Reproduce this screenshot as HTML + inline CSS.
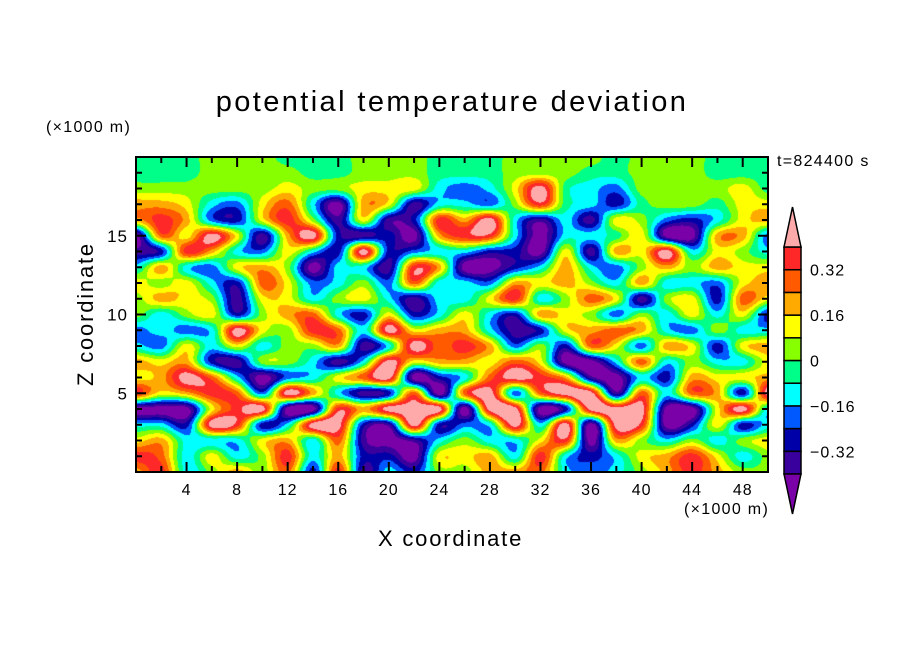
<!DOCTYPE html>
<html><head><meta charset="utf-8"><style>
body{margin:0;background:#fff;width:904px;height:654px;position:relative;overflow:hidden;font-family:"Liberation Sans",sans-serif}
.t{position:absolute;color:#000;white-space:nowrap}
</style></head><body>
<div class="t" style="left:0;width:904px;text-align:center;top:86px;font-size:29px;letter-spacing:2.4px">potential temperature deviation</div>
<div class="t" style="left:46px;top:119px;font-size:16px;letter-spacing:1.3px">(×1000 m)</div>
<div class="t" style="left:684px;top:501px;font-size:16px;letter-spacing:1.3px">(×1000 m)</div>
<div class="t" style="left:777px;top:153px;font-size:16px;letter-spacing:1.3px">t=824400 s</div>
<div class="t" style="left:378px;top:526px;font-size:22px;letter-spacing:1.8px">X coordinate</div>
<div class="t" style="left:11px;top:301px;font-size:22px;letter-spacing:1.8px;transform:rotate(-90deg);transform-origin:center;width:150px;text-align:center">Z coordinate</div>
<canvas id="cv" width="632" height="315" style="position:absolute;left:136px;top:157px"></canvas>
<svg id="ov" width="904" height="654" style="position:absolute;left:0;top:0"></svg>
<script>
// Data: rows z=20 (top) to z=0 (bottom); columns x=0,2,...,50 km
const xs=[0,2,4,6,8,10,12,14,16,18,20,22,24,26,28,30,32,34,36,38,40,42,44,46,48,50];
const zs=[20,19,18,17,16,15,14,13,12,11,10,9,8,7,6,5,4,3,2,1,0];
const row20=[-0.04,-0.04,-0.04,0.04,0.04,0.04,-0.04,-0.04,-0.04,0.04,0.04,0.04,-0.04,-0.04,-0.04,0.04,0.04,0.04,0.04,-0.04,0.04,0.04,0.04,-0.04,-0.04,-0.04];
const row19=[-0.04,-0.04,-0.04,0.04,0.04,0.04,0.04,-0.04,-0.04,0.04,0.04,0.04,-0.04,-0.04,-0.04,0.04,0.04,0.04,-0.04,-0.04,0.04,0.04,0.04,-0.04,-0.04,-0.04];
const row18=[0.04,0.04,0.04,0.04,0.04,0.04,0.12,0.04,0.04,0.12,0.12,0.12,-0.12,-0.2,-0.12,0.12,0.45,-0.04,-0.12,-0.2,0.04,0.04,0.04,0.04,0.12,-0.04];
const row17=[0.2,0.2,0.12,-0.12,-0.2,0.12,0.28,-0.12,-0.45,0.2,0.12,-0.36,-0.12,-0.12,-0.2,0.04,0.36,-0.04,-0.12,-0.28,-0.04,0.04,0.04,-0.04,0.12,0.12];
const row16=[0.2,0.36,0.2,-0.2,-0.28,0.12,0.36,0.04,-0.36,0.12,-0.36,-0.28,0.36,0.2,0.45,-0.12,-0.36,-0.12,-0.36,0.12,0.04,-0.2,-0.28,-0.12,0.12,0.2];
const row15=[-0.45,0.28,0.12,0.45,0.12,-0.36,0.2,0.45,-0.28,-0.36,-0.28,-0.45,0.2,0.36,0.36,-0.12,-0.45,-0.12,-0.12,-0.04,0.12,-0.45,-0.45,0.2,0.2,-0.2];
const row14=[-0.36,-0.28,0.36,0.2,-0.12,-0.2,0.12,-0.12,-0.28,0.45,-0.28,-0.2,-0.12,-0.12,-0.28,-0.28,-0.45,0.12,-0.36,0.2,0.12,0.45,-0.12,0.12,0.04,-0.12];
const row13=[-0.12,0.2,-0.12,-0.2,0.12,0.2,0.04,-0.45,-0.12,-0.12,-0.36,0.36,0.2,-0.45,-0.45,-0.28,-0.12,0.2,-0.12,-0.2,0.04,0.2,0.04,0.2,0.12,0.12];
const row12=[0.12,0.04,0.12,-0.12,-0.28,0.28,0.12,-0.2,-0.12,0.04,-0.2,0.28,-0.12,-0.12,-0.2,0.2,0.12,0.2,0.04,-0.12,0.2,-0.12,-0.12,-0.2,0.12,0.2];
const row11=[0.04,0.2,0.12,0.04,-0.36,0.12,0.12,-0.12,0.04,0.12,-0.12,-0.36,-0.12,-0.12,0.12,0.36,-0.12,0.04,0.28,0.12,-0.36,0.04,0.12,-0.28,0.28,0.12];
const row10=[0.04,-0.12,0.04,0.12,-0.28,0.04,0.2,0.28,-0.12,-0.28,0.12,-0.28,-0.12,0.12,-0.12,-0.28,0.2,0.12,0.04,-0.2,0.04,-0.12,0.12,-0.12,0.12,-0.28];
const row9=[-0.2,-0.12,-0.2,-0.12,0.45,0.12,0.04,0.36,0.28,-0.12,0.45,0.12,0.2,0.2,-0.12,-0.36,-0.28,0.12,0.2,0.28,0.2,-0.12,-0.2,0.04,-0.12,-0.12];
const row8=[-0.12,-0.2,0.12,-0.12,0.12,-0.12,0.04,0.04,0.2,-0.36,-0.12,0.45,0.28,0.36,0.2,-0.2,0.04,-0.28,0.28,0.12,-0.2,0.2,0.12,-0.28,0.12,0.2];
const row7=[0.2,0.12,0.2,-0.28,-0.36,0.04,0.04,-0.12,-0.36,-0.12,0.45,0.12,0.2,0.2,0.12,0.28,0.12,-0.45,-0.45,-0.12,0.28,-0.12,0.04,-0.12,-0.12,0.12];
const row6=[0.12,0.2,0.45,0.28,-0.12,-0.45,-0.2,-0.12,0.12,0.28,0.45,-0.45,-0.28,-0.12,0.28,0.45,0.36,0.2,-0.36,-0.45,-0.12,-0.28,0.2,0.12,0.12,0.2];
const row5=[0.36,0.12,0.2,0.36,0.28,-0.2,0.45,0.2,-0.12,-0.36,-0.28,0.28,-0.45,0.28,0.45,-0.2,0.28,0.45,0.45,-0.36,0.28,-0.12,0.28,0.2,-0.28,0.45];
const row4=[-0.45,-0.45,-0.45,0.12,0.36,0.45,-0.45,-0.45,0.36,0.2,0.45,0.45,0.45,-0.45,0.45,0.45,-0.45,-0.28,0.45,0.45,0.45,-0.45,-0.45,0.12,0.45,-0.12];
const row3=[-0.12,-0.12,-0.28,0.45,0.36,-0.28,-0.12,0.45,0.45,-0.28,-0.36,0.45,-0.28,-0.2,-0.12,0.45,-0.12,0.45,-0.45,0.45,0.36,-0.45,-0.28,0.12,-0.28,-0.12];
const row2=[0.12,0.2,-0.12,-0.12,-0.12,0.12,0.2,-0.12,0.28,-0.36,-0.45,-0.36,-0.12,0.04,-0.12,-0.12,0.12,0.36,-0.45,0.2,0.04,-0.12,0.04,-0.12,0.04,0.12];
const row1=[0.36,0.28,-0.12,0.12,-0.12,0.04,0.36,-0.12,0.2,-0.28,-0.28,-0.45,0.12,0.12,0.2,-0.12,0.36,-0.12,-0.28,-0.12,0.12,0.2,0.36,0.12,-0.12,0.04];
const row0=[0.2,0.36,-0.12,0.04,0.2,0.04,0.28,-0.28,0.36,-0.36,-0.12,-0.28,0.04,0.04,0.2,0.2,0.28,-0.12,-0.2,-0.12,0.04,0.2,0.36,0.2,0.04,0.04];
const grid=[row20,row19,row18,row17,row16,row15,row14,row13,row12,row11,row10,row9,row8,row7,row6,row5,row4,row3,row2,row1,row0];
const levels=[-0.4,-0.32,-0.24,-0.16,-0.08,0,0.08,0.16,0.24,0.32,0.4];
const xTicks=[4,8,12,16,20,24,28,32,36,40,44,48];
const zTicks=[5,10,15];
const cbLabels=["0.32","0.16","0","\u22120.16","\u22120.32"];
const cbLabelVals=[0.32,0.16,0,-0.16,-0.32];
const colors=["#7a00a8","#3a009e","#0000a8","#0058ff","#00ffff","#00ff88","#88ff00","#ffff00","#ffaa00","#ff5a00","#ff2828","#ffaaaa"];

const L=136,T=157,W=632,H=315;
const xS=x=>L+x/50*W, zS=z=>T+H-z/20*H;
function colorIdx(v){let i=0;while(i<levels.length&&v>=levels[i])i++;return i;}
function hex(c){return [parseInt(c.slice(1,3),16),parseInt(c.slice(3,5),16),parseInt(c.slice(5,7),16)];}
const rgb=colors.map(hex);
const nx=xs.length,nz=zs.length;
function g(r,c){r=Math.max(0,Math.min(nz-1,r));c=Math.max(0,Math.min(nx-1,c));return grid[r][c];}
function cr(p0,p1,p2,p3,t){return 0.5*((2*p1)+(-p0+p2)*t+(2*p0-5*p1+4*p2-p3)*t*t+(-p0+3*p1-3*p2+p3)*t*t*t);}
function sample(fr,fc){
  const r0=Math.floor(fr),c0=Math.floor(fc),tr=fr-r0,tc=fc-c0;const rows=[];
  for(let i=-1;i<=2;i++)rows.push(cr(g(r0+i,c0-1),g(r0+i,c0),g(r0+i,c0+1),g(r0+i,c0+2),tc));
  return cr(rows[0],rows[1],rows[2],rows[3],tr);
}
const cv=document.getElementById('cv'),ctx=cv.getContext('2d');
const img=ctx.createImageData(W,H);
for(let py=0;py<H;py++){
  const fr=Math.min((py+0.5)/H*(nz-1),nz-1.0001);
  for(let px=0;px<W;px++){
    const fc=Math.min((px+0.5)/W*(nx-1),nx-1.0001);
    const v=sample(fr,fc);
    const k=rgb[colorIdx(v)]; const o=(py*W+px)*4;
    img.data[o]=k[0];img.data[o+1]=k[1];img.data[o+2]=k[2];img.data[o+3]=255;
  }
}
ctx.putImageData(img,0,0);

const NS='http://www.w3.org/2000/svg', ov=document.getElementById('ov');
function mk(tag,attrs,parent){const e=document.createElementNS(NS,tag);for(const k in attrs)e.setAttribute(k,attrs[k]);(parent||ov).appendChild(e);return e;}
const frame=mk('rect',{x:L,y:T,width:W,height:H,fill:'none',stroke:'#000','stroke-width':2});


for(let x=2;x<50;x+=2){const len=x%4===0?10:6;
  const a=mk('line',{x1:xS(x),x2:xS(x),y1:T+H,y2:T+H-len,stroke:'#000','stroke-width':2});
  
  
  mk('line',{x1:xS(x),x2:xS(x),y1:T,y2:T+len,stroke:'#000','stroke-width':2});}
for(let z=1;z<20;z++){const len=z%5===0?10:6;
  const a=mk('line',{x1:L,x2:L+len,y1:zS(z),y2:zS(z),stroke:'#000','stroke-width':2});
  
  
  mk('line',{x1:L+W,x2:L+W-len,y1:zS(z),y2:zS(z),stroke:'#000','stroke-width':2});}
xTicks.forEach(v=>{const t=mk('text',{x:xS(v),y:T+H+23,'text-anchor':'middle','font-size':16,'letter-spacing':1,'font-family':'Liberation Sans'});t.textContent=v;
  
  });
zTicks.forEach(v=>{const t=mk('text',{x:L-8,y:zS(v)+6,'text-anchor':'end','font-size':17,'letter-spacing':1,'font-family':'Liberation Sans'});t.textContent=v;
  
  });
// colorbar
const cbX=784,cbW=17,cbTop=247,cbBot=474,seg=(cbBot-cbTop)/10;
const cbY=v=>cbBot-(v-levels[0])/(levels[10]-levels[0])*(cbBot-cbTop);
for(let i=1;i<=10;i++){
  const r=mk('rect',{x:cbX,y:cbY(levels[i]),width:cbW,height:seg,fill:colors[i],stroke:'#000','stroke-width':1.5});
  
  
}
const tu=mk('polygon',{points:`${cbX},${cbTop} ${cbX+cbW},${cbTop} ${cbX+cbW/2},207`,fill:colors[11],stroke:'#000','stroke-width':1.5});


const td=mk('polygon',{points:`${cbX},${cbBot} ${cbX+cbW},${cbBot} ${cbX+cbW/2},514`,fill:colors[0],stroke:'#000','stroke-width':1.5});


cbLabels.forEach((s,i)=>{const t=mk('text',{x:810,y:cbY(cbLabelVals[i])+6,'font-size':16,'letter-spacing':1,'font-family':'Liberation Sans'});t.textContent=s;
  
  });
</script>
</body></html>
